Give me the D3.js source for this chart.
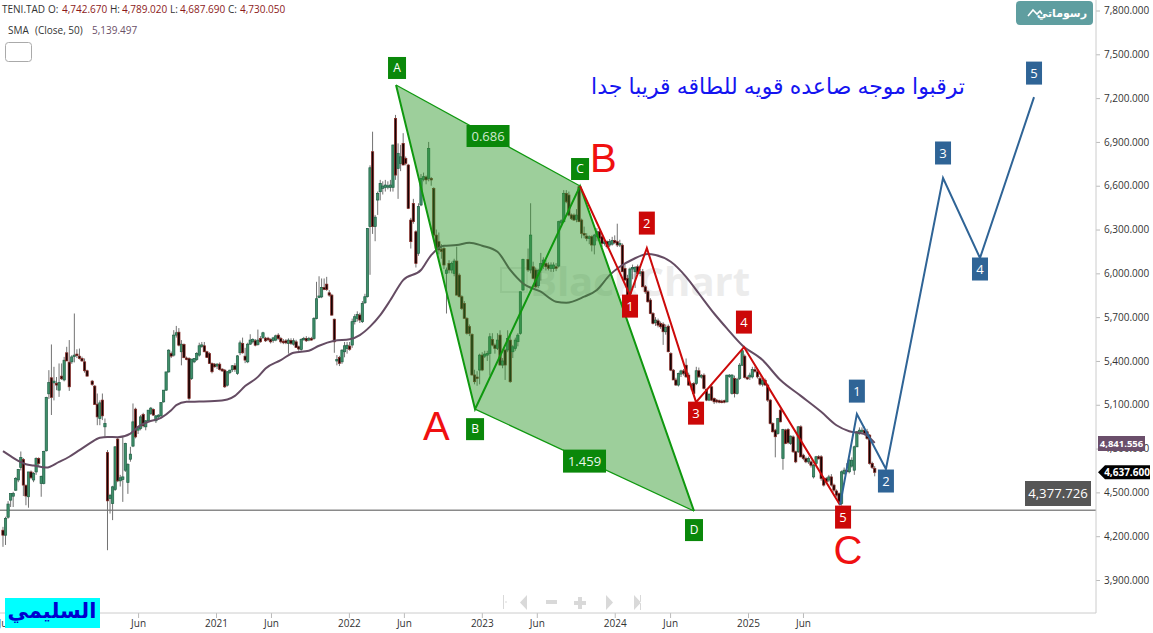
<!DOCTYPE html>
<html><head><meta charset="utf-8">
<script src="https://cdn.jsdelivr.net/npm/d3@7/dist/d3.min.js"></script>
<style>html,body{margin:0;padding:0;background:#fff;overflow:hidden}svg{display:block;font-family:"Open Sans","Noto Sans",sans-serif}</style>
</head><body><svg id="c" width="1153" height="633"></svg>
<script>
// Weekly candles: [week number since first bar, open, high, low, close]
const candles2019 = [[0,4241,4264,4127,4207],[1,4207,4333,4140,4321],[2,4330,4440,4320,4420],[3,4447,4492,4400,4492],[4,4474,4504,4400,4492],[5,4515,4605,4510,4595],[6,4585,4660,4570,4657],[7,4670,4780,4650,4739],[8,4725,4735,4475,4550],[9,4548,4555,4412,4475],[10,4470,4640,4395,4640],[11,4640,4650,4590,4600],[12,4585,4640,4570,4630],[13,4640,4740,4620,4732],[14,4732,4740,4680,4698],[15,4561,4615,4470,4610],[16,4561,4785,4555,4780],[17,4785,5155,4780,5150],[18,5175,5337,5140,5252],[19,5285,5513,5030,5150],[20,5250,5360,5130,5262],[21,5246,5290,5200,5235],[22,5200,5383,5154,5252],[23,5296,5383,5270,5278],[24,5270,5428,5260,5405],[25,5456,5497,5400,5400],[26,5392,5543,5195,5223],[27,5394,5440,5380,5428],[28,5430,5725,5390,5440],[29,5447,5480,5420,5438],[30,5433,5485,5410,5417],[31,5417,5430,5395,5400]];
const candles2020 = [[32,5394,5417,5320,5333],[33,5333,5340,5295,5296],[35,5262,5270,5230,5239],[36,5228,5235,5100,5102],[37,5104,5177,4960,5017],[38,5006,5130,4960,5113],[39,5132,5177,4995,5024],[40,4949,5006,4880,4972],[41,4773,4790,4104,4442],[42,4458,4490,4355,4480],[43,4424,4545,4310,4538],[44,4520,4815,4510,4812],[45,4865,4880,4570,4579],[46,4579,4620,4540,4600],[47,4588,4880,4435,4606],[48,4652,4840,4640,4835],[49,4568,4700,4490,4691],[50,4727,4812,4710,4762],[51,4817,5109,4810,4983],[52,5070,5080,4870,4880],[53,4926,4950,4900,4949],[54,4938,5030,4925,5017],[55,5033,5045,4945,4956],[56,4949,4995,4925,4990],[57,4990,5063,4985,5063],[58,5040,5085,5030,5077],[59,5068,5075,5025,5029],[60,4990,5030,4975,5024],[61,5017,5035,5005,5029],[62,5024,5115,5015,5115],[63,5120,5200,5115,5200],[64,5200,5325,5195,5325],[65,5325,5480,5320,5474],[66,5451,5465,5420,5433],[67,5440,5611,5430,5577],[68,5577,5640,5560,5593],[69,5597,5625,5500,5508],[70,5463,5543,5370,5515],[71,5513,5520,5420,5422],[72,5420,5430,5405,5415],[73,5417,5425,5130,5143],[74,5280,5415,5270,5412],[75,5394,5420,5385,5417],[76,5410,5460,5400,5451],[77,5440,5525,5430,5504],[78,5504,5530,5490,5510],[79,5504,5530,5460,5463],[80,5463,5470,5420,5424],[81,5451,5460,5380,5383],[82,5383,5390,5315,5326],[83,5378,5385,5355,5360]];
const candles2021 = [[84,5365,5385,5345,5378],[85,5378,5390,5335,5342],[86,5344,5350,5325,5332],[87,5337,5345,5215,5223],[88,5234,5330,5225,5326],[89,5320,5340,5310,5337],[90,5340,5372,5325,5367],[91,5367,5385,5325,5342],[92,5314,5440,5305,5435],[93,5456,5540,5440,5524],[94,5520,5560,5450,5456],[95,5433,5490,5385,5406],[96,5394,5525,5385,5515],[97,5515,5583,5510,5543],[98,5531,5555,5520,5547],[99,5538,5550,5500,5508],[100,5513,5615,5505,5543],[101,5554,5570,5525,5531],[102,5561,5600,5550,5593],[103,5556,5565,5530,5538],[104,5556,5565,5535,5545],[105,5547,5555,5520,5531],[106,5540,5565,5525,5558],[107,5543,5580,5535,5572],[108,5577,5590,5545,5554],[109,5554,5565,5520,5531],[110,5535,5550,5515,5530],[111,5538,5550,5515,5524],[112,5520,5555,5450,5543],[113,5540,5555,5510,5520],[114,5515,5555,5505,5538],[115,5531,5545,5490,5492],[116,5497,5505,5470,5482],[117,5479,5555,5470,5547],[118,5547,5565,5540,5555],[119,5554,5570,5530,5538],[120,5543,5565,5535,5554],[121,5554,5565,5540,5543],[122,5554,5700,5545,5691],[123,5691,5942,5685,5826],[124,5835,5980,5830,5845],[125,5839,5965,5830,5903],[126,5903,5965,5885,5890],[127,5926,5976,5880,5890],[128,5867,5885,5840,5851],[129,5851,5860,5710,5714],[130,5686,5690,5456,5531],[131,5401,5440,5370,5410],[132,5424,5435,5365,5383],[133,5394,5480,5380,5474],[134,5463,5530,5425,5504],[135,5485,5530,5450,5508]];
const candles2022 = [[136,5502,5530,5470,5480],[137,5509,5690,5490,5669],[138,5669,5720,5650,5703],[139,5692,5740,5670,5719],[140,5715,5730,5660,5680],[141,5669,5810,5660,5794],[142,5799,5860,5790,5840],[143,5840,6310,5835,6308],[144,6320,6740,5990,6723],[145,6833,6970,6270,6320],[146,6320,6400,6220,6385],[147,6502,6560,6400,6548],[148,6559,6640,6500,6616],[149,6582,6630,6540,6598],[150,6589,6640,6560,6605],[151,6595,6630,6575,6600],[152,6589,6640,6560,6605],[153,6589,6880,6560,6879],[154,7061,7085,6640,6673],[155,6719,6890,6510,6822],[156,6753,6880,6700,6798],[157,6890,6960,6740,6742],[158,6787,6800,6740,6753],[159,6742,6750,6440,6445],[160,6365,6380,6170,6217],[161,6479,6510,6340,6354],[162,6285,6295,6040,6068],[163,6137,6480,6120,6457],[164,6468,6680,6460,6650],[165,6644,6690,6630,6662],[166,6660,6670,6610,6640],[167,6650,6900,6630,6856],[168,6650,6660,6600,6640],[169,6582,6590,6250,6262],[170,6262,6300,6160,6171],[171,6217,6280,6130,6160],[172,6165,6200,6100,6150],[173,6171,6185,6030,6057],[174,6000,6040,5725,6023],[175,6068,6090,6000,6023],[176,6023,6080,6000,6068],[177,6000,6100,5980,6084],[178,6084,6183,5850,5851],[179,5988,6000,5835,5840],[180,5840,5850,5750,5760],[181,5794,5810,5690,5692],[182,5692,5700,5580,5589],[183,5635,5650,5570,5589],[184,5582,5590,5300,5304],[185,5304,5340,5240,5258],[186,5290,5330,5230,5280],[187,5338,5450,5240,5440]];
const candles2023 = [[188,5440,5460,5330,5338],[189,5433,5470,5420,5447],[190,5440,5470,5400,5452],[191,5452,5590,5300,5566],[192,5548,5590,5500,5509],[193,5509,5520,5450,5486],[194,5486,5590,5475,5543],[195,5577,5610,5370,5372],[196,5372,5420,5350,5400],[197,5475,5485,5270,5372],[198,5475,5610,5460,5555],[199,5543,5590,5250,5258],[200,5463,5510,5420,5497],[201,5486,5560,5470,5543],[202,5532,5590,5500,5577],[203,5589,5875,5580,5874],[204,5886,6100,5880,6096],[206,6096,6170,6010,6023],[207,6023,6480,6000,6262],[208,6045,6080,5960,5966],[209,6023,6040,5900,5908],[210,5915,6030,5900,6020],[211,6023,6140,5950,6068],[212,6057,6110,6030,6091],[213,6068,6090,6020,6045],[214,6057,6075,6020,6034],[215,6034,6075,6010,6057],[216,6034,6075,6010,6057],[217,6045,6070,6015,6040],[218,6050,6360,6040,6354],[219,6345,6370,6325,6360],[220,6354,6570,6345,6548],[221,6548,6570,6480,6490],[222,6536,6560,6390,6399],[223,6400,6410,6365,6375],[224,6399,6410,6360,6365],[225,6370,6440,6350,6399],[226,6593,6600,6350,6354],[227,6365,6375,6240,6274],[228,6274,6320,6240,6262],[229,6255,6275,6220,6240],[230,6240,6260,6200,6250],[231,6251,6260,6150,6194],[232,6194,6270,6130,6262],[233,6250,6310,6220,6285],[234,6285,6300,6225,6240],[235,6251,6260,6180,6205],[236,6205,6230,6190,6215],[237,6217,6225,6170,6182],[238,6194,6235,6180,6217],[239,6200,6250,6190,6224]];
const candles2024 = [[240,6224,6260,6200,6210],[241,6217,6340,6180,6194],[242,6194,6230,6180,6205],[243,6193,6205,6010,6011],[244,6033,6060,5950,5954],[245,5965,5990,5850,5851],[246,5860,6040,5840,6030],[247,6030,6060,5960,6040],[248,6011,6050,5900,6040],[249,6045,6060,5990,5999],[250,6000,6030,5980,6010],[251,6011,6030,5905,5908],[252,5908,5920,5860,5874],[253,5874,5885,5800,5805],[254,5817,5830,5720,5725],[255,5725,5735,5650,5657],[256,5662,5700,5640,5680],[257,5675,5690,5630,5645],[258,5657,5670,5620,5634],[259,5652,5665,5510,5600],[260,5600,5650,5580,5630],[261,5638,5650,5460,5463],[262,5451,5460,5330,5337],[263,5337,5345,5270,5270],[264,5270,5285,5230,5235],[265,5235,5320,5225,5314],[266,5310,5340,5290,5332],[267,5332,5345,5300,5314],[268,5371,5417,5285,5291],[269,5303,5320,5230,5235],[270,5235,5250,5200,5240],[271,5246,5255,5170,5177],[272,5246,5360,5235,5333],[273,5333,5355,5285,5291],[274,5290,5310,5280,5300],[275,5303,5315,5205,5212],[276,5205,5210,5125,5132],[277,5132,5180,5125,5170],[278,5223,5240,5125,5132],[279,5143,5150,5105,5120],[280,5132,5140,5110,5120],[281,5128,5135,5110,5120],[282,5125,5135,5110,5122],[283,5128,5135,5110,5120],[284,5120,5305,5115,5303],[285,5300,5310,5285,5303],[286,5177,5310,5170,5303],[287,5280,5300,5150,5177],[288,5177,5285,5170,5275],[289,5280,5385,5270,5371],[290,5371,5475,5365,5470],[291,5433,5445,5280,5287]];
const candles2025 = [[292,5287,5300,5270,5280],[293,5290,5320,5270,5303],[294,5291,5360,5280,5342],[295,5340,5360,5320,5330],[296,5326,5340,5280,5291],[297,5280,5295,5230,5241],[298,5241,5280,5225,5265],[299,5268,5280,5230,5235],[300,5235,5245,5120,5132],[301,5132,5140,4965,4972],[302,4972,4980,4910,4915],[303,4926,4935,4740,4881],[304,4903,5010,4895,5006],[305,5063,5075,4980,4983],[306,4732,4935,4655,4931],[307,4926,4935,4830,4835],[308,4931,4940,4830,4840],[309,4835,4890,4825,4885],[310,4880,4890,4770,4778],[311,4778,4785,4700,4709],[312,4778,4955,4770,4949],[313,4949,4960,4740,4743],[314,4755,4765,4720,4732],[315,4732,4745,4700,4709],[316,4709,4745,4695,4732],[317,4709,4720,4670,4686],[318,4606,4695,4595,4686],[319,4698,4750,4680,4744],[320,4744,4755,4725,4730],[321,4744,4755,4580,4595],[322,4595,4605,4540,4550],[323,4595,4605,4560,4572],[324,4584,4620,4570,4606],[325,4606,4625,4540,4550],[326,4550,4560,4500,4515],[327,4510,4520,4470,4481],[328,4492,4500,4420,4435],[329,4424,4650,4410,4641],[330,4630,4670,4620,4652],[331,4652,4700,4630,4645],[332,4641,4730,4630,4721],[333,4680,4740,4670,4720],[334,4652,4820,4620,4812],[335,4812,4920,4810,4915],[336,4903,4945,4895,4926],[337,4915,4945,4900,4926],[338,4926,4950,4890,4903],[339,4915,4935,4860,4869],[340,4892,4900,4690,4698],[341,4698,4710,4660,4670],[342,4664,4680,4610,4637.6]];

// 50-period SMA
const smaWeeks = [0,3,6,9,12,17,22,26,30,34,38,41,45,50,53,57,62,66,68,72,77,83,88,91,95,100,103,109,114,120,124,130,136,140,144,148,152,157,164,168,173,178,183,188,194,199,204,211,217,221,228,233,238,242,247,253,256,262,268,273,279,284,290,298,305,313,321,327,332,338,342];
const smaValues = [4782,4748,4716,4693,4684,4670,4709,4744,4789,4835,4874,4880,4878,4903,4949,4983,5011,5063,5097,5120,5122,5125,5136,5161,5228,5291,5349,5406,5456,5470,5504,5538,5548,5577,5635,5714,5817,5954,6023,6125,6189,6194,6210,6189,6148,6023,5931,5874,5806,5799,5840,5886,5988,6045,6095,6132,6125,6079,5976,5862,5725,5623,5508,5406,5269,5161,5052,4960,4919,4899,4839];

// Drawn pattern and wave counts (week, price)
const patternLabels = ["A","B","C","D"];
const patternWeeks = [154.2,185.2,226.4,271.1];
const patternPrices = [7290,5070,6598,4372];
const ratioLabels = ["0.686","1.459"];
const redLabels = ["1","2","3","4","5"];
const redWeeks = [246,252.6,271.9,290.7,328.4];
const redPrices = [5851,6173,5118,5495,4413];
const blueLabels = ["1","2","3","4","5"];
const blueWeeks = [335,346.4,368.8,383.3,404.5];
const bluePrices = [5036,4660,6653,6105,7207];
const supportPrice = 4377.726;
const smaLast = 4841.556;
const lastClose = 4637.6;

const priceTicks = [7800,7500,7200,6900,6600,6300,6000,5700,5400,5100,4800,4500,4200,3900];
const timeTickDates = ["2019-06-03","2020-01-01","2020-06-01","2021-01-01","2021-06-01","2022-01-01","2022-06-01","2023-01-01","2023-06-01","2024-01-01","2024-06-01","2025-01-01","2025-06-01"];
const waveLettersText = ["A","B","C"];
const waveLettersWeeks = [170,235.5,331.5];
const waveLettersPrices = [4954,6796,4111];

const W=1153,H=633,plotR=1096,plotB=613;
const svg=d3.select("#c");
const y=d3.scaleLinear().domain([7800,3900]).range([10.5,580]);
const t=d3.scaleUtc().domain([new Date("2021-01-01"),new Date("2025-01-01")]).range([216,748]);
const first=new Date("2019-05-27");
const wx=w=>t(new Date(+first+w*7*864e5));

// watermark
const wm=svg.append("g");
wm.append("text").attr("x",530).attr("y",296).attr("font-size",40).attr("font-weight",700).attr("fill","#ececec").text("BlackChart");
wm.append("rect").attr("x",501).attr("y",268).attr("width",26).attr("height",24).attr("fill","none").attr("stroke","#ececec").attr("stroke-width",2);

// horizontal support line
svg.append("line").attr("x1",0).attr("x2",plotR).attr("y1",y(supportPrice)).attr("y2",y(supportPrice)).attr("stroke","#8a8a8a").attr("stroke-width",1.6);

// candles
const all=[].concat(candles2019,candles2020,candles2021,candles2022,candles2023,candles2024,candles2025);
const gc=svg.append("g");
gc.selectAll("line").data(all).join("line").attr("x1",d=>wx(d[0])).attr("x2",d=>wx(d[0])).attr("y1",d=>y(d[2])).attr("y2",d=>y(d[3])).attr("stroke","#737373").attr("stroke-width",1);
gc.selectAll("rect").data(all).join("rect").attr("x",d=>wx(d[0])-1.15).attr("width",2.3)
  .attr("y",d=>y(Math.max(d[1],d[4]))).attr("height",d=>Math.max(1.5,Math.abs(y(d[1])-y(d[4]))))
  .attr("fill",d=>d[4]>=d[1]?"#3f8f6a":"#150303").attr("stroke",d=>d[4]>=d[1]?"#1f5f45":"#8a2a25").attr("stroke-width",0.7);

// SMA
const line=d3.line().curve(d3.curveMonotoneX);
svg.append("path").attr("d",line(smaWeeks.map((w,i)=>[wx(w),y(smaValues[i])]))).attr("fill","none").attr("stroke","#654c63").attr("stroke-width",2);

// pattern
const P=patternWeeks.map((w,i)=>[wx(w),y(patternPrices[i])]);
const greenL="#0f980f",greenB="#0a880a";
svg.append("path").attr("d",d3.line()([P[0],P[2],P[1]])+"Z").attr("fill","#2f9a2a").attr("fill-opacity",0.47).attr("stroke","none");
svg.append("path").attr("d",d3.line()([P[2],P[3],P[1]])+"Z").attr("fill","#2f9a2a").attr("fill-opacity",0.47).attr("stroke","none");
svg.append("path").attr("d",d3.line()([P[0],P[2]])).attr("stroke",greenL).attr("stroke-width",1.2).attr("fill","none");
svg.append("path").attr("d",d3.line()([P[1],P[3]])).attr("stroke",greenL).attr("stroke-width",1.2).attr("fill","none");
svg.append("path").attr("d",d3.line()([P[0],P[1],P[2],P[3]])).attr("stroke",greenL).attr("stroke-width",2).attr("fill","none");

// red wave
const R=[P[2]].concat(redWeeks.map((w,i)=>[wx(w),y(redPrices[i])]));
svg.append("path").attr("d",d3.line()(R)).attr("fill","none").attr("stroke","#cc0a0a").attr("stroke-width",2);
// blue wave
const B=[R[5]].concat(blueWeeks.map((w,i)=>[wx(w),y(bluePrices[i])]));
svg.append("path").attr("d",d3.line()(B)).attr("fill","none").attr("stroke","#2f6496").attr("stroke-width",2);

function badge(cx,cy,label,fill,w,h,fs,tc){
  const g=svg.append("g");
  g.append("rect").attr("x",cx-w/2).attr("y",cy-h/2).attr("width",w).attr("height",h).attr("fill",fill);
  g.append("text").attr("x",cx).attr("y",cy).attr("dy","0.36em").attr("text-anchor","middle").attr("font-size",fs).attr("fill",tc||"#fff").text(label);
}
const patOff=[-17,20,-17,19];
P.forEach((p,i)=>badge(p[0]+(i==0?1:0),p[1]+patOff[i],patternLabels[i],greenB,18,22,12));
badge((P[0][0]+P[2][0])/2,(P[0][1]+P[2][1])/2+0.5,ratioLabels[0],greenB,43,22,13,"#cfe8cf");
badge((P[1][0]+P[3][0])/2,(P[1][1]+P[3][1])/2+1,ratioLabels[1],greenB,43,23,13,"#eaf5ea");
const redOff=[11,-25,11,-25,12];
R.slice(1).forEach((p,i)=>badge(p[0]+(i==4?3:0),p[1]+redOff[i],redLabels[i],"#cc0808",16,23,13));
const blueOff=[-23,12,-25,11,-24];
B.slice(1).forEach((p,i)=>badge(p[0],p[1]+blueOff[i],blueLabels[i],"#2f6496",16,23,13));

// big wave letters
waveLettersText.forEach((s,i)=>svg.append("text").attr("x",wx(waveLettersWeeks[i])).attr("y",y(waveLettersPrices[i])).attr("dy","0.36em").attr("text-anchor","middle").attr("font-family","Liberation Sans").attr("font-size",40).attr("fill","#f01010").text(s));

// Arabic headline
svg.append("text").attr("x",965).attr("y",94).attr("text-anchor","end").attr("font-size",22).attr("fill","#1414f0").attr("font-family","Liberation Sans,DejaVu Sans").text("ترقبوا موجه صاعده قويه للطاقه قريبا جدا");

// legend
const lgFs=10;
[["TENI.TAD",2,"#333"],["O:",48,"#333"],["4,742.670",62,"#8c1a1a"],["H:",110,"#333"],["4,789.020",122,"#8c1a1a"],["L:",170,"#333"],["4,687.690",180,"#8c1a1a"],["C:",228,"#333"],["4,730.050",240,"#8c1a1a"]]
  .forEach(d=>svg.append("text").attr("x",d[1]).attr("y",13).attr("font-size",lgFs).attr("fill",d[2]).text(d[0]));
[["SMA",8,"#333"],["(Close, 50)",35,"#333"],["5,139.497",92,"#6b5068"]]
  .forEach(d=>svg.append("text").attr("x",d[1]).attr("y",34).attr("font-size",lgFs).attr("fill",d[2]).text(d[0]));
svg.append("rect").attr("x",5.5).attr("y",42.5).attr("width",26).attr("height",19).attr("rx",3).attr("fill","#fff").attr("stroke","#aaa");

// right axis
const ay=svg.append("g").attr("transform",`translate(${plotR},0)`).call(d3.axisRight(y).tickValues(priceTicks).tickFormat(d3.format(",.3f")).tickSize(4).tickPadding(4));
ay.select(".domain").remove();
ay.selectAll("line").attr("stroke","#bbb");
ay.selectAll("text").attr("font-size",10).attr("fill","#333").attr("font-family","Open Sans");
svg.append("line").attr("x1",plotR).attr("x2",plotR).attr("y1",0).attr("y2",plotB).attr("stroke","#ccc");

// bottom axis
const fmt=d=>d.getUTCMonth()==0?String(d.getUTCFullYear()):"Jun";
const ax=svg.append("g").attr("transform",`translate(0,${plotB})`).call(d3.axisBottom(t).tickValues(timeTickDates.map(s=>new Date(s))).tickFormat(fmt).tickSize(5).tickPadding(2));
ax.select(".domain").remove();
ax.selectAll("line").attr("stroke","#bbb");
ax.selectAll("text").attr("font-size",10).attr("fill","#333").attr("font-family","Open Sans");
svg.append("line").attr("x1",0).attr("x2",plotR).attr("y1",plotB).attr("y2",plotB).attr("stroke","#ccc");

// zoom nav icons
const nav=svg.append("g").attr("fill","#d9d9d9").attr("stroke","none");
nav.append("path").attr("d","M503 595v14h1v-14zM505 601.5h2v1h-2z");
nav.append("path").attr("d","M527 595v15l-7-7.5z");
nav.append("path").attr("d","M546 600h11v4h-11z");
nav.append("path").attr("d","M578 597h4v4h4v4h-4v4h-4v-4h-4v-4h4z");
nav.append("path").attr("d","M606 595v15l7-7.5z");
nav.append("path").attr("d","M634 595v15l7-7.5zM640 595h1v15h-1z");

// price tags
svg.append("rect").attr("x",1098).attr("y",436).attr("width",47).attr("height",15).attr("fill","#6b4f6b");
svg.append("text").attr("x",1121.5).attr("y",443.5).attr("dy","0.36em").attr("text-anchor","middle").attr("font-size",9.5).attr("font-weight",700).attr("fill","#fff").text(d3.format(",.3f")(smaLast));
svg.append("path").attr("d",`M1098 ${y(lastClose)} l7 -7 h45 v14 h-45 z`).attr("fill","#000");
svg.append("text").attr("x",1127).attr("y",y(lastClose)).attr("dy","0.36em").attr("text-anchor","middle").attr("font-size",10).attr("font-weight",700).attr("fill","#fff").text(d3.format(",.3f")(lastClose));
svg.append("rect").attr("x",1025).attr("y",481).attr("width",66).attr("height",25).attr("fill","#565656");
svg.append("text").attr("x",1058).attr("y",493.5).attr("dy","0.36em").attr("text-anchor","middle").attr("font-size",13.2).attr("fill","#fff").text(d3.format(",.3f")(supportPrice));

// top button
svg.append("rect").attr("x",1016).attr("y",1).attr("width",77).attr("height",24).attr("rx",4).attr("fill","#5f9ea0");
svg.append("text").attr("x",1087).attr("y",17).attr("text-anchor","end").attr("font-size",11).attr("font-weight",700).attr("fill","#fff").attr("font-family","DejaVu Sans").text("رسوماتي");
svg.append("path").attr("d","M1028 16l5 -6l4 4l3 -3l2 3").attr("fill","none").attr("stroke","#fff").attr("stroke-width",1.6);

// signature
svg.append("rect").attr("x",5).attr("y",598).attr("width",95).attr("height",30).attr("fill","#00ffff");
svg.append("text").attr("x",52).attr("y",618).attr("text-anchor","middle").attr("font-size",21).attr("font-weight",700).attr("fill","#0000d0").attr("font-family","DejaVu Sans").text("السليمي");
</script></body></html>
